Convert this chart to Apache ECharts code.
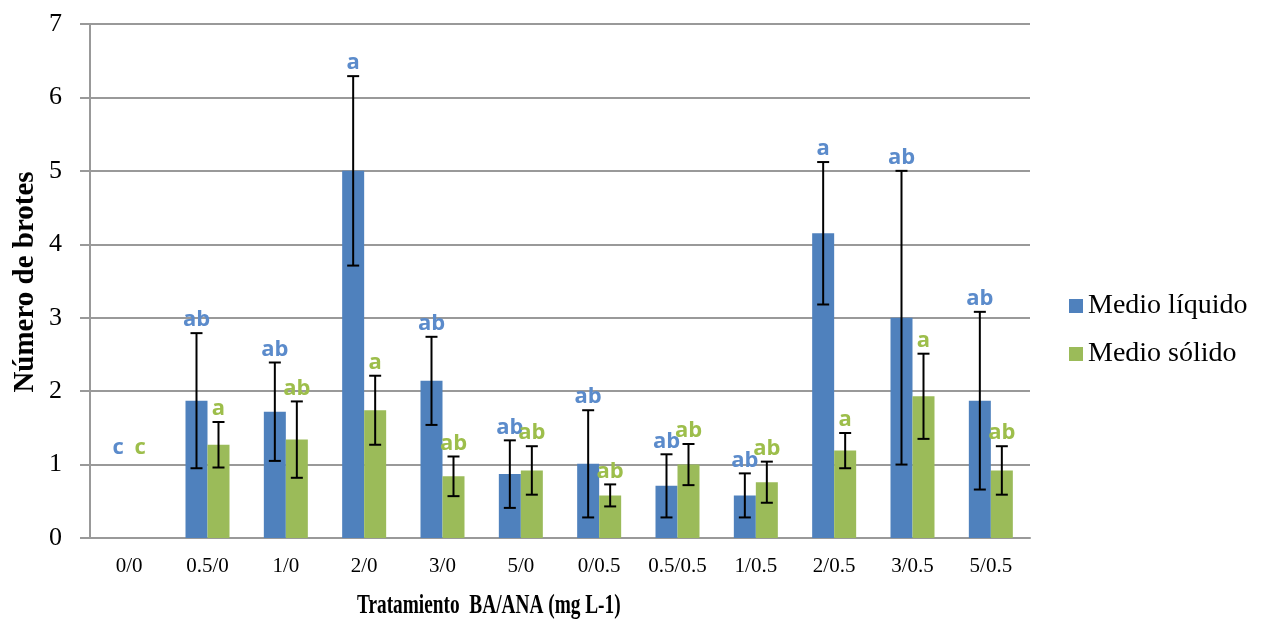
<!DOCTYPE html>
<html><head><meta charset="utf-8">
<script src="https://cdn.jsdelivr.net/npm/echarts@6/dist/echarts.min.js"></script>
<style>html,body{margin:0;padding:0;background:#fff}#c{width:1271px;height:623px}</style>
</head><body><div id="c"></div>
<script>
const categories = ['0/0','0.5/0','1/0','2/0','3/0','5/0','0/0.5','0.5/0.5','1/0.5','2/0.5','3/0.5','5/0.5'];
const liquidMean = [0, 1.87, 1.72, 5.0, 2.14, 0.87, 1.01, 0.71, 0.58, 4.15, 3.0, 1.87];
const liquidErr  = [0, 0.92, 0.67, 1.29, 0.60, 0.46, 0.73, 0.43, 0.30, 0.97, 2.0, 1.21];
const solidMean  = [0, 1.27, 1.34, 1.74, 0.84, 0.92, 0.58, 1.0, 0.76, 1.19, 1.93, 0.92];
const solidErr   = [0, 0.31, 0.52, 0.47, 0.27, 0.33, 0.15, 0.28, 0.28, 0.24, 0.58, 0.33];
const liquidLetters = ['c','ab','ab','a','ab','ab','ab','ab','ab','a','ab','ab'];
const solidLetters  = ['c','a','ab','a','ab','ab','ab','ab','ab','a','a','ab'];
const letterAnchorNoBar = 1.08; // letters drawn for the treatment without bars
const yTicks = [0,1,2,3,4,5,6,7];

const blue = '#4F81BD', green = '#9BBB59';
const blueTxt = '#5B8BCB', greenTxt = '#9DBE4B';
const BAR_W = 22;

function errSeries(name, means, errs, letters, side, txtColor) {
  return {
    type: 'custom', name: name + '_err', z: 5, silent: true,
    data: means.map((m, i) => [i, m, errs[i]]),
    renderItem: function (params, api) {
      const i = api.value(0), m = api.value(1), e = api.value(2);
      const center = api.coord([i, 0]);
      const x = center[0] + side * BAR_W / 2;
      const children = [];
      let anchorY;
      if (m > 0) {
        const top = api.coord([i, m + e])[1];
        const bot = api.coord([i, m - e])[1];
        const cap = 6;
        const ls = {stroke: '#000', lineWidth: 2};
        children.push({type: 'line', shape: {x1: x, y1: top, x2: x, y2: bot}, style: ls});
        children.push({type: 'line', shape: {x1: x - cap, y1: top, x2: x + cap, y2: top}, style: ls});
        children.push({type: 'line', shape: {x1: x - cap, y1: bot, x2: x + cap, y2: bot}, style: ls});
        anchorY = top - 2;
      } else {
        anchorY = api.coord([i, letterAnchorNoBar])[1];
      }
      children.push({type: 'text', style: {
        text: letters[i], x: x, y: anchorY, align: 'center', verticalAlign: 'bottom',
        fill: txtColor, font: 'bold 22px "Open Sans", "Liberation Sans", sans-serif'
      }});
      return {type: 'group', children: children};
    }
  };
}

const chart = echarts.init(document.getElementById('c'), null, {renderer: 'canvas'});
chart.setOption({
  animation: false,
  backgroundColor: '#fff',
  grid: {left: 90, right: 241, top: 24, bottom: 85, containLabel: false},
  legend: {
    orient: 'vertical', left: 1064, top: 287, itemGap: 20, itemWidth: 14, itemHeight: 14,
    icon: 'rect',
    data: ['Medio líquido', 'Medio sólido'],
    textStyle: {fontFamily: '"Liberation Serif", serif', fontSize: 28, color: '#000'}
  },
  xAxis: {
    type: 'category', data: categories,
    axisLine: {lineStyle: {color: '#999', width: 2}},
    axisTick: {show: false},
    axisLabel: {fontFamily: '"Liberation Serif", serif', fontSize: 21, color: '#000', margin: 18}
  },
  yAxis: {
    type: 'value', min: 0, max: 7, interval: 1,
    axisLine: {show: true, lineStyle: {color: '#999', width: 2}},
    axisTick: {show: true, length: 10, lineStyle: {color: '#999', width: 2}},
    splitLine: {lineStyle: {color: '#999', width: 2}},
    axisLabel: {fontFamily: '"Liberation Serif", serif', fontSize: 26, color: '#000', margin: 28,
      formatter: v => yTicks.includes(v) ? String(v) : ''}
  },
  graphic: [{
    type: 'text', x: 357, y: 592, scaleX: 0.69,
    style: {text: 'Tratamiento  BA/ANA (mg L-1)', font: 'bold 28px "Liberation Serif", serif', fill: '#000'}
  }, {
    type: 'text', x: 26, y: 282, rotation: Math.PI / 2,
    style: {text: 'Número de brotes', font: 'bold 29px "Liberation Serif", serif', fill: '#000',
      align: 'center', verticalAlign: 'middle'}
  }],
  series: [
    {name: 'Medio líquido', type: 'bar', data: liquidMean, barWidth: BAR_W, barGap: '0%',
      itemStyle: {color: blue}},
    {name: 'Medio sólido', type: 'bar', data: solidMean, barWidth: BAR_W, barGap: '0%',
      itemStyle: {color: green}},
    errSeries('Medio líquido', liquidMean, liquidErr, liquidLetters, -1, blueTxt),
    errSeries('Medio sólido', solidMean, solidErr, solidLetters, 1, greenTxt)
  ]
});
</script></body></html>
